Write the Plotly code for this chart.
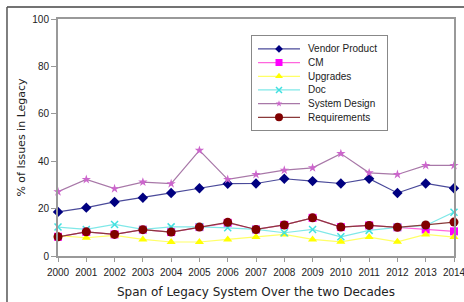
import plotly.graph_objects as go

years = list(range(2000, 2015))
vendor_product = [18.6, 20.4, 22.8, 24.6, 26.6, 28.6, 30.5, 30.6, 32.6, 31.6, 30.6, 32.6, 26.6, 30.6, 28.6]
cm = [8.1, 10.2, 9.1, 11.1, 10.1, 12.2, 14.0, 11.2, 13.1, 16.1, 12.2, 12.9, 12.1, 11.2, 10.4]
upgrades = [8.6, 7.7, 8.7, 7.0, 5.9, 5.9, 7.0, 8.0, 9.1, 7.0, 6.0, 8.0, 6.0, 9.1, 8.0]
doc = [12.2, 11.2, 13.3, 11.2, 12.3, 12.3, 11.9, 11.2, 9.8, 11.2, 8.1, 10.8, 12.1, 12.9, 18.5]
system_design = [27.1, 32.3, 28.4, 31.2, 30.5, 44.6, 32.3, 34.4, 36.2, 37.2, 43.2, 35.1, 34.4, 38.2, 38.2]
requirements = [8.1, 10.2, 9.1, 11.1, 10.1, 12.2, 14.2, 11.2, 13.1, 16.1, 12.2, 12.9, 12.1, 13.1, 14.3]

y_ticks = [0, 20, 40, 60, 80, 100]

series_names = ["Vendor Product", "CM", "Upgrades", "Doc", "System Design", "Requirements"]
series_values = [vendor_product, cm, upgrades, doc, system_design, requirements]
line_colors = ["#4a4a9a", "#ff66dd", "#ffff66", "#80e8e8", "#a878a8", "#8a3a3a"]
marker_colors = ["#000080", "#ff00ff", "#ffff00", "#40e0e0", "#cc66cc", "#800000"]
marker_symbols = ["diamond", "square", "triangle-up", "x-thin", "star", "circle"]
marker_sizes = [8, 8, 8, 7, 7, 9]
legend_marker_sizes = [6, 7, 7, 6, 5, 8]


def marker_style(i, sizes):
    sym = marker_symbols[i]
    return dict(symbol=sym, size=sizes[i], color=marker_colors[i],
                line=dict(color=marker_colors[i], width=1.5 if sym == "x-thin" else 0))


fig = go.Figure()
for i, name in enumerate(series_names):
    fig.add_trace(go.Scatter(
        x=years, y=series_values[i], name=name, mode="lines+markers",
        line=dict(color=line_colors[i], width=1.2),
        marker=marker_style(i, marker_sizes), cliponaxis=False, showlegend=False,
    ))

# custom legend drawn in its own small axis box (sample glyphs + labels)
row_gap = 13.7
for i, name in enumerate(series_names):
    yy = 81 - i * row_gap
    fig.add_trace(go.Scatter(
        x=[6, 48], y=[yy, yy], mode="lines", line=dict(color=line_colors[i], width=1.2),
        xaxis="x2", yaxis="y2", showlegend=False, hoverinfo="skip"))
    fig.add_trace(go.Scatter(
        x=[27], y=[yy], mode="markers", marker=marker_style(i, legend_marker_sizes),
        xaxis="x2", yaxis="y2", showlegend=False, hoverinfo="skip"))

annotations = []
for i, name in enumerate(series_names):
    yy = 81 - i * row_gap
    annotations.append(dict(x=54, y=yy, xref="x2", yref="y2", text=name, showarrow=False,
                            xanchor="left", yanchor="middle",
                            font=dict(family="Liberation Sans", size=10, color="#222")))

fig.update_layout(
    width=464, height=302,
    margin=dict(l=58, r=10, t=19, b=45.5),
    paper_bgcolor="white", plot_bgcolor="white",
    font=dict(family="Liberation Sans", size=10, color="#222"),
    showlegend=False,
    annotations=annotations,
    xaxis=dict(range=[2000, 2014], tickvals=years, ticktext=[str(y) for y in years],
               showline=True, linecolor="#999", linewidth=2, mirror=True,
               ticks="outside", ticklen=4, tickcolor="#999", showgrid=False,
               zeroline=False, fixedrange=True, ticklabelstandoff=2, automargin=False,
               ticklabeloverflow="allow",
               title=dict(text="Span of Legacy System Over the two Decades",
                          font=dict(family="DejaVu Sans", size=12, color="#222"),
                          standoff=11),
               tickfont=dict(size=10)),
    yaxis=dict(range=[0, 100], tickvals=y_ticks,
               showline=True, linecolor="#999", linewidth=2, mirror=True,
               ticks="outside", ticklen=5, tickcolor="#999", showgrid=False,
               zeroline=False, fixedrange=True, automargin=False,
               title=dict(text="% of Issues in Legacy",
                          font=dict(family="DejaVu Sans", size=11, color="#222"),
                          standoff=4),
               tickfont=dict(size=10)),
    xaxis2=dict(domain=[0.4899, 0.8308], range=[0, 135], anchor="y2",
                showline=True, linecolor="#888", linewidth=1, mirror=True,
                showticklabels=False, ticks="", showgrid=False, zeroline=False, fixedrange=True),
    yaxis2=dict(domain=[0.5326, 0.9284], range=[0, 94], anchor="x2",
                showline=True, linecolor="#888", linewidth=1, mirror=True,
                showticklabels=False, ticks="", showgrid=False, zeroline=False, fixedrange=True),
    shapes=[
        dict(type="line", xref="paper", yref="paper", x0=-0.1288, x1=1.03, y0=1.0505, y1=1.0505,
             line=dict(color="#444", width=1.5)),
        dict(type="line", xref="paper", yref="paper", x0=-0.1288, x1=-0.1288, y0=1.0505, y1=-0.2,
             line=dict(color="#555", width=1.5)),
    ],
)

fig.write_html("out.html", config={"displayModeBar": False},
               post_script="document.body.style.margin='0';document.body.style.overflow='hidden';")
